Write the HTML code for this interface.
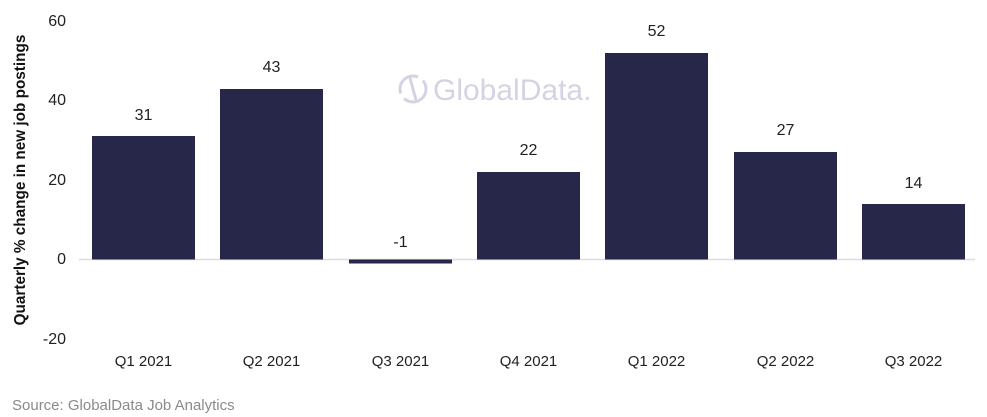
<!DOCTYPE html>
<html><head><style>
body{margin:0;background:#fff;}
svg{display:block;font-family:"Liberation Sans",Arial,sans-serif;}
</style></head><body>
<svg width="987" height="417" viewBox="0 0 987 417">
<g font-size="16" fill="#222" text-anchor="end">
<text x="66" y="26">60</text>
<text x="66" y="105">40</text>
<text x="66" y="185">20</text>
<text x="66" y="264">0</text>
<text x="66" y="344">-20</text>
</g>
<text transform="translate(25,180) rotate(-90)" text-anchor="middle" font-size="15.3" font-weight="bold" fill="#111">Quarterly % change in new job postings</text>
<g opacity="0.35" fill="#8a82b0">
<circle cx="413" cy="89" r="13" fill="none" stroke="#8a82b0" stroke-width="3" stroke-dasharray="30 6"/>
<line x1="410" y1="78" x2="416" y2="100" stroke="#8a82b0" stroke-width="3"/>
<text x="433" y="100" font-size="30">GlobalData.</text>
</g>
<line x1="79" y1="259.5" x2="975" y2="259.5" stroke="#ddd" stroke-width="1.5"/>
<g fill="#272849">
<rect x="92" y="136" width="103" height="123.5"/>
<rect x="220" y="89" width="103" height="170.5"/>
<rect x="349" y="259.5" width="103" height="4"/>
<rect x="477" y="172" width="103" height="87.5"/>
<rect x="605" y="53" width="103" height="206.5"/>
<rect x="734" y="152" width="103" height="107.5"/>
<rect x="862" y="204" width="103" height="55.5"/>
</g>
<g font-size="16" fill="#222" text-anchor="middle">
<text x="143.5" y="120">31</text>
<text x="271.5" y="72">43</text>
<text x="400.5" y="247">-1</text>
<text x="528.5" y="155">22</text>
<text x="656.5" y="36">52</text>
<text x="785.5" y="135">27</text>
<text x="913.5" y="188">14</text>
</g>
<g font-size="15" fill="#222" text-anchor="middle">
<text x="143.5" y="366">Q1 2021</text>
<text x="271.5" y="366">Q2 2021</text>
<text x="400.5" y="366">Q3 2021</text>
<text x="528.5" y="366">Q4 2021</text>
<text x="656.5" y="366">Q1 2022</text>
<text x="785.5" y="366">Q2 2022</text>
<text x="913.5" y="366">Q3 2022</text>
</g>
<text x="12" y="410" font-size="15" fill="#8a8a8a">Source: GlobalData Job Analytics</text>
</svg>
</body></html>
